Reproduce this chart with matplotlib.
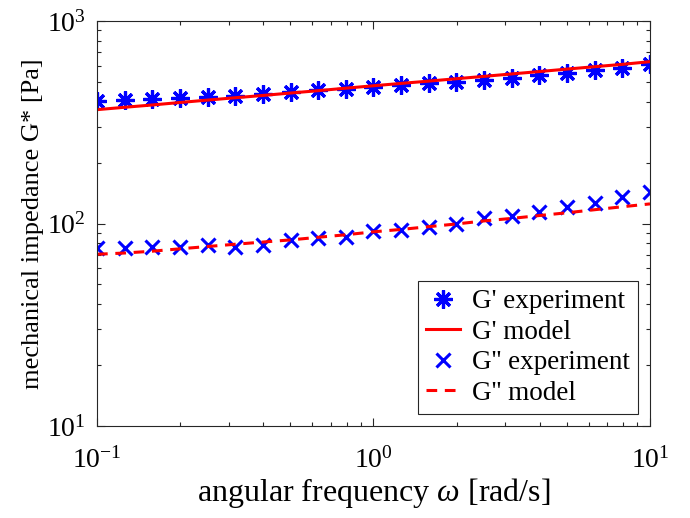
import matplotlib
matplotlib.use("Agg")
import matplotlib.pyplot as plt
from matplotlib.ticker import LogLocator, NullFormatter

# -----------------------------
# Data
# -----------------------------
omega = [0.1, 0.1259, 0.1585, 0.1995, 0.2512, 0.3162, 0.3981, 0.5012, 0.631, 0.7943,
         1.0, 1.259, 1.585, 1.995, 2.512, 3.162, 3.981, 5.012, 6.31, 7.943, 10.0]

g1_exp = [405, 408, 412, 416, 422, 428, 438, 445, 455, 463,
          472, 482, 492, 502, 512, 525, 540, 555, 570, 585, 615]
g1_model = [365, 375, 385, 396, 407, 418, 429, 441, 453, 466,
            479, 492, 505, 519, 533, 548, 563, 579, 595, 611, 630]

g2_exp = [75.6, 75.6, 76.2, 76.2, 77.9, 77.0, 78.5, 82.5, 84.5, 86.0,
          92.0, 92.5, 96.0, 100.0, 106.6, 108.7, 114.0, 120.0, 126.4, 134.9, 142.7]
g2_model = [70.5, 71.5, 73.0, 75.0, 77.0, 79.0, 81.0, 83.0, 85.5, 88.0,
            91.0, 93.5, 96.5, 99.5, 103.0, 106.0, 109.5, 113.0, 117.0, 121.0, 125.0]

# -----------------------------
# Style
# -----------------------------
plt.rcParams["font.family"] = ["Liberation Serif", "DejaVu Serif"]
plt.rcParams["mathtext.fontset"] = "custom"
plt.rcParams["mathtext.rm"] = "Liberation Serif"
plt.rcParams["mathtext.it"] = "Liberation Serif:italic"

fig = plt.figure(figsize=(6.9, 5.18), dpi=100)
ax = fig.add_axes([0.1406, 0.1776, 0.8014, 0.7818])

asterisk = (8, 2, 0)
ax.plot(omega, g1_exp, linestyle="none", marker=asterisk, markersize=13,
        markeredgewidth=2.3, color="#0000ff", label="G' experiment")
ax.plot(omega, g1_model, color="#ff0000", lw=2.2, label="G' model")
ax.plot(omega, g2_exp, linestyle="none", marker="x", markersize=10,
        markeredgewidth=2.2, color="#0000ff", label="G'' experiment")
ax.plot(omega, g2_model, color="#ff0000", lw=2.2, linestyle=(0, (3.5, 2.5)),
        label="G'' model")

ax.set_xscale("log")
ax.set_yscale("log")
ax.set_xlim(0.1, 10)
ax.set_ylim(10, 1000)

ax.xaxis.set_major_locator(LogLocator(base=10, numticks=10))
ax.yaxis.set_major_locator(LogLocator(base=10, numticks=10))
ax.xaxis.set_minor_locator(LogLocator(base=10, subs=range(2, 10), numticks=20))
ax.yaxis.set_minor_locator(LogLocator(base=10, subs=range(2, 10), numticks=20))
ax.xaxis.set_minor_formatter(NullFormatter())
ax.yaxis.set_minor_formatter(NullFormatter())

ax.tick_params(which="both", direction="in", top=True, right=True,
               colors="#262626", labelcolor="black", width=0.8)
ax.tick_params(which="major", length=6, labelsize=20)
ax.tick_params(axis="x", which="major", pad=15)
ax.tick_params(axis="y", which="major", pad=8)
ax.tick_params(which="minor", length=3)
for s in ax.spines.values():
    s.set_color("#262626")
    s.set_linewidth(0.8)

ax.set_xlabel(r"angular frequency $\omega$ [rad/s]", fontsize=23, labelpad=2)
ax.set_ylabel("mechanical impedance G* [Pa]", fontsize=19, labelpad=2)

leg = ax.legend(loc="lower right", fontsize=19.5, frameon=True, fancybox=False,
                edgecolor="#262626", framealpha=1, handlelength=1.25,
                handletextpad=0.45, borderpad=0.3, labelspacing=0.2,
                borderaxespad=0.45)
leg.get_frame().set_linewidth(0.8)

fig.savefig("out.png", dpi=100)
